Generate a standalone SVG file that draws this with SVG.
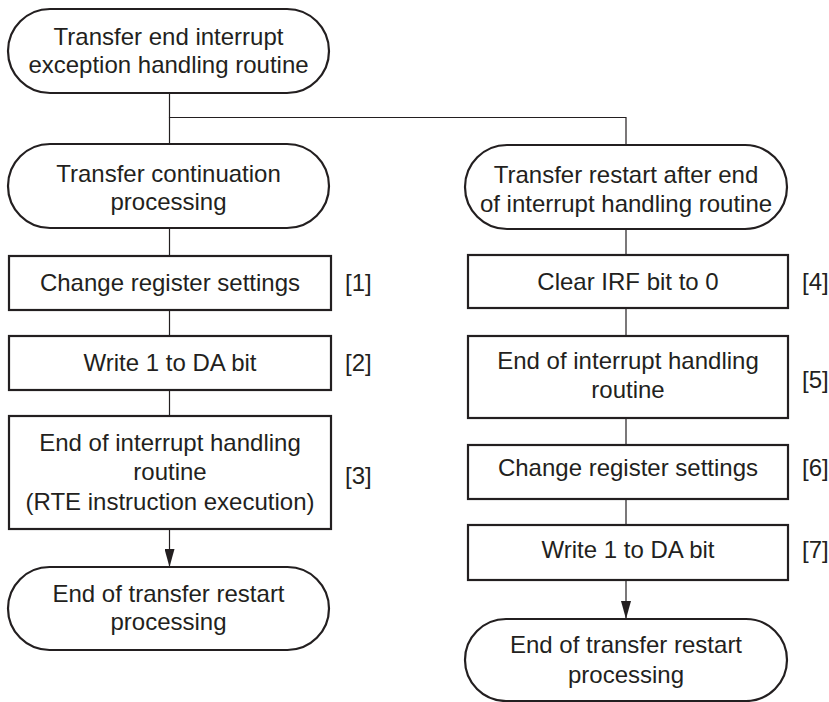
<svg xmlns="http://www.w3.org/2000/svg" width="829" height="702" viewBox="0 0 829 702">
<defs>
<style>
.n{fill:#fff;stroke:#231f20;stroke-width:2.2}
.c{fill:none;stroke:#231f20;stroke-width:1.2}
text{font-family:"Liberation Sans",Arial,sans-serif;font-size:24px;fill:#231f20}
.m{text-anchor:middle}
</style>
<marker id="ah" markerWidth="18" markerHeight="10" refX="18" refY="5" orient="auto" markerUnits="userSpaceOnUse" viewBox="0 0 18 10">
<path d="M0,0 L18,5 L0,10 Z" fill="#231f20"/>
</marker>
</defs>
<rect width="829" height="702" fill="#fff"/>
<g id="connectors">
<path class="c" d="M169.5,93 V117.5 H626 V145"/>
<path class="c" d="M169.5,117.5 V144"/>
<path class="c" d="M169.5,228 V256"/>
<path class="c" d="M169.5,310 V336"/>
<path class="c" d="M169.5,390 V416"/>
<path class="c" d="M169.5,529 V567" marker-end="url(#ah)"/>
<path class="c" d="M626,229 V255"/>
<path class="c" d="M626,308 V336"/>
<path class="c" d="M626,418 V445"/>
<path class="c" d="M626,499 V525"/>
<path class="c" d="M626,580 V619" marker-end="url(#ah)"/>
</g>
<g id="start">
<rect class="n" x="8" y="9" width="321" height="84" rx="42"/>
<text class="m" x="168.5" y="45">Transfer end interrupt</text>
<text class="m" x="168.5" y="73">exception handling routine</text>
</g>
<g id="cont">
<rect class="n" x="8" y="144" width="321" height="84" rx="42"/>
<text class="m" x="168.5" y="182">Transfer continuation</text>
<text class="m" x="168.5" y="210">processing</text>
</g>
<g id="s1">
<rect class="n" x="9" y="256" width="322" height="54"/>
<text class="m" x="170" y="291">Change register settings</text>
<text x="345" y="291">[1]</text>
</g>
<g id="s2">
<rect class="n" x="9" y="336" width="322" height="54"/>
<text class="m" x="170" y="371">Write 1 to DA bit</text>
<text x="345" y="371">[2]</text>
</g>
<g id="s3">
<rect class="n" x="9" y="416" width="322" height="113"/>
<text class="m" x="170" y="451">End of interrupt handling</text>
<text class="m" x="170" y="480">routine</text>
<text class="m" x="170" y="510">(RTE instruction execution)</text>
<text x="345" y="484">[3]</text>
</g>
<g id="endL">
<rect class="n" x="8" y="567" width="321" height="83" rx="41.5"/>
<text class="m" x="168.5" y="602">End of transfer restart</text>
<text class="m" x="168.5" y="630">processing</text>
</g>
<g id="restart">
<rect class="n" x="465" y="145" width="322" height="84" rx="42"/>
<text class="m" x="626" y="183">Transfer restart after end</text>
<text class="m" x="626" y="212">of interrupt handling routine</text>
</g>
<g id="s4">
<rect class="n" x="468" y="255" width="320" height="53"/>
<text class="m" x="628" y="290">Clear IRF bit to 0</text>
<text x="802" y="290">[4]</text>
</g>
<g id="s5">
<rect class="n" x="468" y="336" width="320" height="82"/>
<text class="m" x="628" y="369">End of interrupt handling</text>
<text class="m" x="628" y="398">routine</text>
<text x="802" y="388">[5]</text>
</g>
<g id="s6">
<rect class="n" x="468" y="445" width="320" height="54"/>
<text class="m" x="628" y="476">Change register settings</text>
<text x="802" y="476">[6]</text>
</g>
<g id="s7">
<rect class="n" x="468" y="525" width="320" height="55"/>
<text class="m" x="628" y="558">Write 1 to DA bit</text>
<text x="802" y="558">[7]</text>
</g>
<g id="endR">
<rect class="n" x="465" y="619" width="322" height="82" rx="41"/>
<text class="m" x="626" y="653">End of transfer restart</text>
<text class="m" x="626" y="683">processing</text>
</g>
</svg>
